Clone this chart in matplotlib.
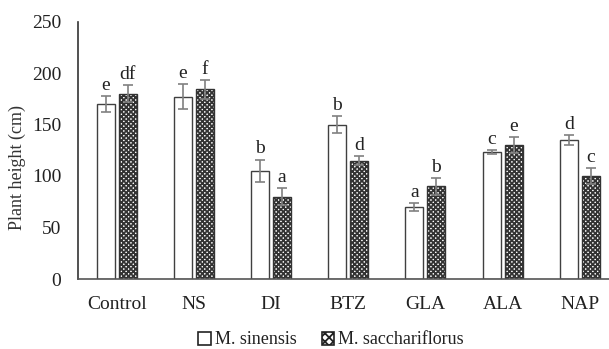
import matplotlib
matplotlib.use("Agg")
import matplotlib.pyplot as plt
import numpy as np
from matplotlib.patches import Patch

categories = ["Control", "NS", "DI", "BTZ", "GLA", "ALA", "NAP"]
sinensis = [170, 177, 105, 150, 70, 123, 135]
sinensis_err = [8, 12, 11, 8, 4, 2, 5]
sacch = [180, 184, 80, 115, 90, 130, 100]
sacch_err = [8, 9, 8, 4, 8, 8, 8]
sinensis_letters = ["e", "e", "b", "b", "a", "c", "d"]
sacch_letters = ["df", "f", "a", "d", "b", "e", "c"]
yticks = [0, 50, 100, 150, 200, 250]

plt.rcParams['font.family'] = ['Liberation Serif', 'DejaVu Serif']
plt.rcParams['hatch.linewidth'] = 1.3

fig = plt.figure(figsize=(6.09, 3.49), dpi=100)
ax = fig.add_axes([78/609, 70/349, (609-78)/609, (279-21.5)/349])

x = np.arange(len(categories))
w = 0.233
off = 0.1425
edge = "#404040"
ax.bar(x - off, sinensis, w, color="white", edgecolor=edge, linewidth=1.0, zorder=2)
ax.bar(x + off, sacch, w, color="white", edgecolor="#333333", hatch="xxxxxxx", linewidth=1.0, zorder=2)
ax.errorbar(x - off, sinensis, yerr=sinensis_err, fmt="none", ecolor="#808080", elinewidth=1.2, capsize=3.5, capthick=1.2, zorder=3)
ax.errorbar(x + off, sacch, yerr=sacch_err, fmt="none", ecolor="#808080", elinewidth=1.2, capsize=3.5, capthick=1.2, zorder=3)

for xi, v, e, t in zip(x - off, sinensis, sinensis_err, sinensis_letters):
    ax.text(xi, v + e + 2, t, ha="center", va="bottom", fontsize=14, color="#222222")
for xi, v, e, t in zip(x + off, sacch, sacch_err, sacch_letters):
    ax.text(xi, v + e + 2, t, ha="center", va="bottom", fontsize=14, color="#222222")

ax.set_xlim(-0.5, -0.5 + 531/77.2)
ax.set_ylim(0, 250)
ax.set_yticks(yticks)
ax.set_xticks(x)
ax.set_xticklabels(categories)
ax.tick_params(axis="both", length=0, labelsize=14, colors="#222222")
ax.tick_params(axis="y", pad=12)
ax.tick_params(axis="x", pad=12)
for s in ["top", "right"]:
    ax.spines[s].set_visible(False)
ax.spines["left"].set_color("#333333")
ax.spines["bottom"].set_color("#555555")
ax.spines["left"].set_linewidth(1.2)
ax.spines["bottom"].set_linewidth(1.2)
ax.set_ylabel("Plant height (cm)", fontsize=13, color="#333333")
ax.yaxis.set_label_coords((26 - 78) / 531, 0.433)

handles = [Patch(facecolor="white", edgecolor="#222222", linewidth=1.2, label="M. sinensis"),
           Patch(facecolor="white", edgecolor="#222222", hatch="xxxx", linewidth=1.2, label="M. sacchariflorus")]
fig.legend(handles=handles, loc="center", bbox_to_anchor=(331/609, 1 - 340/349), ncol=2,
           frameon=False, fontsize=13, handlelength=0.7, handleheight=0.7, handletextpad=0.2,
           columnspacing=1.4, labelcolor="#222222", borderpad=0)

fig.savefig("out.png", dpi=100)
